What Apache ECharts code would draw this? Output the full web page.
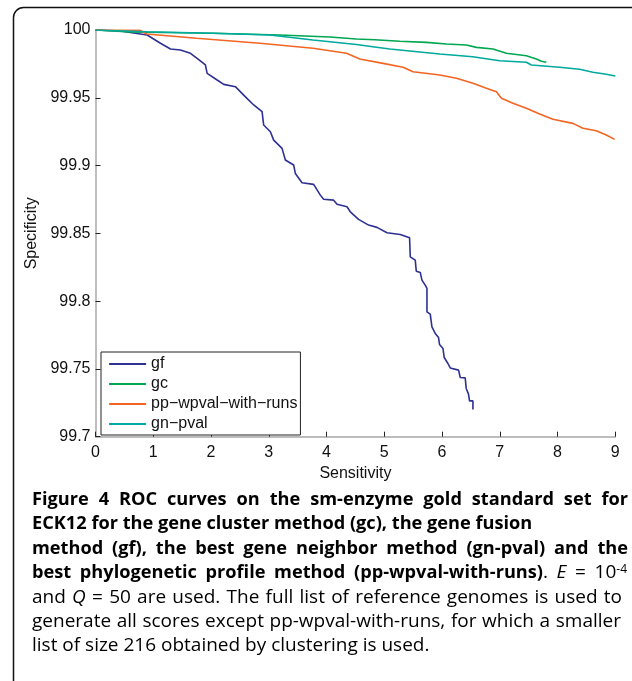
<!DOCTYPE html>
<html>
<head>
<meta charset="utf-8">
<script src="https://cdn.jsdelivr.net/npm/echarts@6/dist/echarts.min.js"></script>
<style>
html,body{margin:0;padding:0;background:#fff;}
#chart{width:632px;height:681px;}
</style>
</head>
<body>
<div id="chart"></div>
<script>
// Series names (legend)
var seriesNames = ['gf', 'gc', 'pp\u2212wpval\u2212with\u2212runs', 'gn\u2212pval'];
// [sensitivity, specificity] points
var gfPoints = [[0,100],[0.43,99.9993],[0.894,99.9963],[1.125,99.9902],[1.298,99.9860],[1.471,99.9852],[1.644,99.9828],[1.759,99.9791],[1.903,99.9742],[1.933,99.9680],[2.106,99.9631],[2.220,99.9599],[2.422,99.9582],[2.566,99.9520],[2.739,99.9447],[2.884,99.9398],[2.912,99.9299],[3.028,99.9249],[3.085,99.9188],[3.230,99.9127],[3.287,99.9041],[3.431,99.9004],[3.460,99.8942],[3.576,99.8873],[3.777,99.8861],[3.893,99.8782],[3.950,99.8751],[4.123,99.8745],[4.182,99.8714],[4.355,99.8696],[4.412,99.8659],[4.555,99.8603],[4.728,99.8561],[4.874,99.8544],[5.047,99.8504],[5.277,99.8492],[5.438,99.8467],[5.450,99.8327],[5.536,99.8303],[5.554,99.8221],[5.623,99.8212],[5.652,99.8155],[5.709,99.8118],[5.739,99.8094],[5.739,99.7921],[5.796,99.7904],[5.825,99.7810],[5.882,99.7762],[5.939,99.7732],[5.957,99.7680],[6.016,99.7651],[6.038,99.7584],[6.102,99.7540],[6.142,99.7507],[6.286,99.7491],[6.315,99.7437],[6.401,99.7434],[6.419,99.7356],[6.458,99.7314],[6.476,99.7264],[6.535,99.7264],[6.535,99.7201]];
var gcPoints = [[0,100],[0.597,99.9985],[2.033,99.9976],[3.192,99.9963],[4.057,99.9948],[4.519,99.9934],[4.836,99.9928],[5.268,99.9917],[5.730,99.9909],[6.076,99.9897],[6.422,99.9889],[6.595,99.9872],[6.882,99.9860],[7.114,99.9828],[7.460,99.9810],[7.633,99.9786],[7.720,99.9769],[7.806,99.9762]];
var ppPoints = [[0,100],[0.770,99.9998],[0.886,99.9970],[1.751,99.9939],[2.846,99.9902],[3.768,99.9865],[4.346,99.9828],[4.576,99.9786],[4.979,99.9754],[5.325,99.9725],[5.498,99.9692],[5.960,99.9668],[6.249,99.9644],[6.536,99.9607],[6.768,99.9570],[6.941,99.9545],[7.028,99.9496],[7.228,99.9459],[7.460,99.9422],[7.690,99.9380],[7.920,99.9341],[8.266,99.9311],[8.439,99.9275],[8.671,99.9257],[8.844,99.9225],[8.988,99.9193]];
var gnPoints = [[0,100],[0.886,99.9987],[2.033,99.9976],[3.019,99.9963],[3.763,99.9926],[4.519,99.9893],[4.801,99.9877],[5.095,99.9860],[5.960,99.9823],[6.531,99.9803],[6.998,99.9773],[7.460,99.9762],[7.547,99.9742],[8.036,99.9725],[8.382,99.9710],[8.612,99.9688],[8.844,99.9673],[9.0,99.9661]];
var seriesColors = ['#2e3192', '#00a651', '#f26522', '#00a99d'];
var xTicks = {min: 0, max: 9, interval: 1};
var yTicks = {min: 99.7, max: 100, interval: 0.05};

// Caption text, one entry per printed line: [style, text] segments
var captionLines = [
  [['b', 'Figure 4 ROC curves on the sm-enzyme gold standard set for']],
  [['b', 'ECK12 for the gene cluster method (gc), the gene fusion']],
  [['b', 'method (gf), the best gene neighbor method (gn-pval) and the']],
  [['b', 'best phylogenetic profile method (pp-wpval-with-runs)'], ['n', '. '], ['i', 'E'], ['n', ' = 10'], ['s', '-4']],
  [['n', 'and '], ['i', 'Q'], ['n', ' = 50 are used. The full list of reference genomes is used to']],
  [['n', 'generate all scores except pp-wpval-with-runs, for which a smaller']],
  [['n', 'list of size 216 obtained by clustering is used.']]
];

var chart = echarts.init(document.getElementById('chart'), null, {renderer: 'canvas'});
var allPoints = [gfPoints, gcPoints, ppPoints, gnPoints];
var axisFont = '"Liberation Sans", Arial, Helvetica, sans-serif';
var capFam = '"Open Sans", "Noto Sans", sans-serif';

// caption layout (justified block)
var capLeft = 32, capTop = 500, capLineGap = 24.3;
var capRight = [628, null, 628, 627, 622, 621, null];
var capStyles = {
  b: {size: 18.2, weight: 'bold', style: 'normal', color: '#231f20'},
  n: {size: 19.0, weight: 'normal', style: 'normal', color: '#2b2b2b'},
  i: {size: 19.0, weight: 'normal', style: 'italic', color: '#2b2b2b'},
  s: {size: 12, weight: 'normal', style: 'normal', color: '#2b2b2b'}
};
var capRich = {};
Object.keys(capStyles).forEach(function (k) {
  var c = capStyles[k];
  capRich[k] = {fontFamily: capFam, fontSize: c.size, fontWeight: c.weight, fontStyle: c.style, color: c.color};
  if (k === 's') capRich[k].verticalAlign = 'top';
});
var measureCtx = document.createElement('canvas').getContext('2d');
function segWidth(st, txt) {
  var c = capStyles[st];
  measureCtx.font = c.style + ' ' + c.weight + ' ' + c.size + 'px ' + capFam;
  return measureCtx.measureText(txt).width;
}

var graphics = [{
  type: 'rect', silent: true,
  shape: {x: 13.5, y: 7.5, width: 640, height: 700, r: 10},
  style: {fill: 'none', stroke: '#111', lineWidth: 1.5}
}];

captionLines.forEach(function (segs, k) {
  var words = [[]];
  segs.forEach(function (seg) {
    var parts = seg[1].split(' ');
    parts.forEach(function (p, j) {
      if (j > 0) words.push([]);
      if (p !== '') words[words.length - 1].push([seg[0], p]);
    });
  });
  words = words.filter(function (w) { return w.length; });
  var widths = words.map(function (w) {
    return w.reduce(function (a, s) { return a + segWidth(s[0], s[1]); }, 0);
  });
  var total = widths.reduce(function (a, b) { return a + b; }, 0);
  var gap;
  if (capRight[k] != null) {
    gap = (capRight[k] - capLeft - total) / (words.length - 1);
  } else {
    gap = segWidth(segs[0][0], ' ');
  }
  var x = capLeft;
  words.forEach(function (w, j) {
    graphics.push({
      type: 'text', silent: true,
      x: x, y: capTop + k * capLineGap,
      style: {
        text: w.map(function (s) { return '{' + s[0] + '|' + s[1] + '}'; }).join(''),
        rich: capRich, verticalAlign: 'middle', align: 'left'
      }
    });
    x += widths[j] + gap;
  });
});

var option = {
  animation: false,
  backgroundColor: '#fff',
  grid: {left: 95.5, right: 16.7, top: 30, bottom: 244.3, containLabel: false},
  legend: {
    orient: 'vertical', left: 101, top: 352,
    data: seriesNames,
    itemWidth: 37, itemHeight: 16, itemGap: 4,
    padding: [4, 3, 3, 7],
    itemStyle: {opacity: 0},
    lineStyle: {width: 2.2},
    borderColor: '#222', borderWidth: 1, backgroundColor: '#fff',
    textStyle: {fontFamily: axisFont, fontSize: 16, color: '#111'}
  },
  xAxis: {
    type: 'value', min: xTicks.min, max: xTicks.max, interval: xTicks.interval,
    name: 'Sensitivity', nameLocation: 'middle', nameGap: 25,
    nameTextStyle: {fontFamily: axisFont, fontSize: 16, color: '#111'},
    axisLine: {lineStyle: {color: '#a8a8a8', width: 1.5}},
    axisTick: {inside: true, length: 5, lineStyle: {color: '#222', width: 1}},
    axisLabel: {fontFamily: axisFont, fontSize: 16, color: '#111', margin: 8},
    splitLine: {show: false}
  },
  yAxis: {
    type: 'value', min: yTicks.min, max: yTicks.max, interval: yTicks.interval,
    name: 'Specificity', nameLocation: 'middle', nameGap: 44,
    nameTextStyle: {fontFamily: axisFont, fontSize: 16, color: '#111'},
    axisLine: {show: true, lineStyle: {color: '#a8a8a8', width: 1.5}},
    axisTick: {show: true, inside: true, length: 5, lineStyle: {color: '#222', width: 1}},
    axisLabel: {fontFamily: axisFont, fontSize: 16, color: '#111', margin: 5,
      formatter: function (v) { return String(+v.toFixed(2)); }},
    splitLine: {show: false}
  },
  series: seriesNames.map(function (name, i) {
    return {
      name: name, type: 'line', data: allPoints[i],
      symbol: 'none', showSymbol: false,
      lineStyle: {color: seriesColors[i], width: 1.6},
      itemStyle: {color: seriesColors[i]},
      z: 2 + i
    };
  }),
  graphic: graphics
};
chart.setOption(option);
</script>
</body>
</html>
